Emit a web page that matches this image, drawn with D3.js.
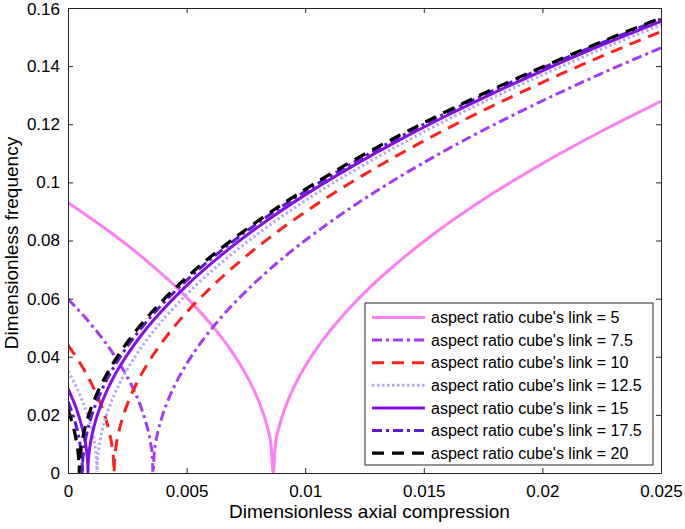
<!DOCTYPE html>
<html>
<head>
<meta charset="utf-8">
<script src="https://cdn.jsdelivr.net/npm/d3@7"></script>
<style>
  html, body { margin: 0; padding: 0; background: #fff; }
  svg { display: block; }
  text { font-family: Arial, "Liberation Sans", sans-serif; fill: #000; }
</style>
</head>
<body>
<div id="chart"></div>
<script>
// ---- data ----
const seriesNames = ["aspect ratio cube's link = 5", "aspect ratio cube's link = 7.5", "aspect ratio cube's link = 10",
  "aspect ratio cube's link = 12.5", "aspect ratio cube's link = 15", "aspect ratio cube's link = 17.5", "aspect ratio cube's link = 20"];

const x5 = [0, 0.000865, 0.00173, 0.002595, 0.00346, 0.004325, 0.00519, 0.006055, 0.00692, 0.007785, 0.008131, 0.008391, 0.008564, 0.00865,
  0.008737, 0.00891, 0.009169, 0.009515, 0.01038, 0.011245, 0.012543, 0.01384, 0.01557, 0.0173, 0.019895, 0.02249, 0.025];
const y5 = [0.093, 0.0882, 0.0832, 0.0778, 0.0720, 0.0658, 0.0588, 0.0509, 0.0416, 0.0294, 0.0228, 0.0161, 0.0093, 0,
  0.0093, 0.0161, 0.0228, 0.0294, 0.0416, 0.0509, 0.0624, 0.0720, 0.0832, 0.093, 0.1060, 0.1176, 0.1279];

const x7_5 = [0, 0.000359, 0.000718, 0.001077, 0.001436, 0.001795, 0.002154, 0.002513, 0.002872, 0.003231, 0.003375, 0.003482, 0.003554, 0.00359,
  0.003626, 0.003698, 0.003805, 0.003949, 0.004308, 0.004667, 0.005206, 0.005744, 0.006462, 0.00718, 0.008257, 0.009334, 0.01077,
  0.013, 0.015, 0.017, 0.019, 0.021, 0.023, 0.025];
const y7_5 = [0.0599, 0.0568, 0.0536, 0.0501, 0.0464, 0.0424, 0.0379, 0.0328, 0.0268, 0.0189, 0.0147, 0.0104, 0.006, 0,
  0.006, 0.0104, 0.0147, 0.0189, 0.0268, 0.0328, 0.0402, 0.0464, 0.0536, 0.0599, 0.0683, 0.0758, 0.0847,
  0.0970, 0.1068, 0.1158, 0.1241, 0.1319, 0.1393, 0.1463];

const x10 = [0, 0.000194, 0.000388, 0.000582, 0.000776, 0.00097, 0.001164, 0.001358, 0.001552, 0.001746, 0.001824, 0.001882, 0.001921, 0.00194,
  0.001959, 0.001998, 0.002056, 0.002134, 0.002328, 0.002522, 0.002813, 0.003104, 0.003492, 0.00388, 0.004462, 0.005044, 0.00582,
  0.007, 0.0085, 0.010, 0.012, 0.014, 0.016, 0.018, 0.020, 0.0225, 0.025];
const y10 = [0.044, 0.0417, 0.0394, 0.0368, 0.0341, 0.0311, 0.0278, 0.0241, 0.0197, 0.0139, 0.0108, 0.0076, 0.0044, 0,
  0.0044, 0.0076, 0.0108, 0.0139, 0.0197, 0.0241, 0.0295, 0.0341, 0.0394, 0.044, 0.0502, 0.0557, 0.0622,
  0.0711, 0.0810, 0.0898, 0.1003, 0.1098, 0.1186, 0.1267, 0.1344, 0.1434, 0.1519];

const x12_5 = [0, 0.0001225, 0.000245, 0.0003675, 0.00049, 0.0006125, 0.000735, 0.0008575, 0.00098, 0.0011025, 0.0011515, 0.0011883, 0.0012128, 0.001225,
  0.0012373, 0.0012618, 0.0012985, 0.0013475, 0.00147, 0.0015925, 0.0017763, 0.00196, 0.002205, 0.00245, 0.0028175, 0.003185, 0.003675,
  0.0045, 0.0055, 0.0065, 0.008, 0.010, 0.012, 0.014, 0.016, 0.018, 0.020, 0.0225, 0.025];
const y12_5 = [0.035, 0.0332, 0.0313, 0.0293, 0.0271, 0.0247, 0.0221, 0.0192, 0.0157, 0.0111, 0.0086, 0.0061, 0.0035, 0,
  0.0035, 0.0061, 0.0086, 0.0111, 0.0157, 0.0192, 0.0235, 0.0271, 0.0313, 0.035, 0.0399, 0.0443, 0.0495,
  0.0572, 0.0654, 0.0726, 0.0823, 0.0937, 0.1038, 0.1130, 0.1216, 0.1295, 0.1370, 0.1459, 0.1542];

const x15 = [0, 0.0000841, 0.0001682, 0.0002523, 0.0003364, 0.0004205, 0.0005046, 0.0005887, 0.0006728, 0.0007569, 0.0007905, 0.0008158, 0.0008326, 0.000841,
  0.0008494, 0.0008662, 0.0008915, 0.0009251, 0.0010092, 0.0010933, 0.0012195, 0.0013456, 0.0015138, 0.001682, 0.0019343, 0.0021866, 0.002523,
  0.0032, 0.004, 0.005, 0.0065, 0.008, 0.010, 0.012, 0.014, 0.016, 0.018, 0.020, 0.0225, 0.025];
const y15 = [0.029, 0.0275, 0.0259, 0.0243, 0.0225, 0.0205, 0.0183, 0.0159, 0.0130, 0.0092, 0.0071, 0.005, 0.0029, 0,
  0.0029, 0.005, 0.0071, 0.0092, 0.013, 0.0159, 0.0195, 0.0225, 0.0259, 0.029, 0.0331, 0.0367, 0.0410,
  0.0486, 0.0562, 0.0645, 0.0752, 0.0846, 0.0957, 0.1056, 0.1147, 0.1231, 0.1310, 0.1384, 0.1472, 0.1554];

const x17_5 = [0, 0.0000605, 0.000121, 0.0001815, 0.000242, 0.0003025, 0.000363, 0.0004235, 0.000484, 0.0005445, 0.0005687, 0.0005869, 0.000599, 0.000605,
  0.000611, 0.0006232, 0.0006413, 0.0006655, 0.000726, 0.0007865, 0.0008773, 0.000968, 0.001089, 0.00121, 0.0013915, 0.001573, 0.001815,
  0.0023, 0.003, 0.004, 0.005, 0.0065, 0.008, 0.010, 0.012, 0.014, 0.016, 0.018, 0.020, 0.0225, 0.025];
const y17_5 = [0.0246, 0.0233, 0.022, 0.0206, 0.0191, 0.0174, 0.0156, 0.0135, 0.011, 0.0078, 0.006, 0.0043, 0.0025, 0,
  0.0025, 0.0043, 0.006, 0.0078, 0.011, 0.0135, 0.0165, 0.0191, 0.022, 0.0246, 0.0280, 0.0311, 0.0348,
  0.0412, 0.0489, 0.0583, 0.0663, 0.0768, 0.0860, 0.0969, 0.1067, 0.1157, 0.1241, 0.1319, 0.1393, 0.1480, 0.1562];

const x20 = [0, 0.0000475, 0.000095, 0.0001425, 0.00019, 0.0002375, 0.000285, 0.0003325, 0.00038, 0.0004275, 0.0004465, 0.0004608, 0.0004703, 0.000475,
  0.0004798, 0.0004893, 0.0005035, 0.0005225, 0.00057, 0.0006175, 0.0006888, 0.00076, 0.000855, 0.00095, 0.0010925, 0.001235, 0.001425,
  0.0019, 0.0025, 0.0033, 0.004, 0.005, 0.0065, 0.008, 0.010, 0.012, 0.014, 0.016, 0.018, 0.020, 0.0225, 0.025];
const y20 = [0.0218, 0.0207, 0.0195, 0.0182, 0.0169, 0.0154, 0.0138, 0.0119, 0.0097, 0.0069, 0.0053, 0.0038, 0.0022, 0,
  0.0022, 0.0038, 0.0053, 0.0069, 0.0097, 0.0119, 0.0146, 0.0169, 0.0195, 0.0218, 0.0249, 0.0276, 0.0308,
  0.0377, 0.0450, 0.0532, 0.0594, 0.0673, 0.0776, 0.0867, 0.0976, 0.1074, 0.1163, 0.1246, 0.1324, 0.1397, 0.1484, 0.1566];

const xTicks = [0, 0.005, 0.01, 0.015, 0.02, 0.025];
const xTickLabels = ["0", "0.005", "0.01", "0.015", "0.02", "0.025"];
const yTicks = [0, 0.02, 0.04, 0.06, 0.08, 0.1, 0.12, 0.14, 0.16];
const yTickLabels = ["0", "0.02", "0.04", "0.06", "0.08", "0.1", "0.12", "0.14", "0.16"];
const xTitle = "Dimensionless axial compression";
const yTitle = "Dimensionless frequency";

// ---- styles ----
const seriesX = [x5, x7_5, x10, x12_5, x15, x17_5, x20];
const seriesY = [y5, y7_5, y10, y12_5, y15, y17_5, y20];
const colors = ["#ff80f0", "#a33cf6", "#ff2020", "#b8a8fa", "#8510e6", "#5a1ccc", "#000000"];
const dashes = [null, "10,4,3,4", "12,8", "2.5,2.5", null, "10,4,3,4", "12,8"];
const widths = [3, 3, 3, 3, 3, 3, 3.2];

const W = 685, H = 529;
const m = { left: 68, right: 661, top: 8, bottom: 473 };

const svg = d3.select("#chart").append("svg").attr("width", W).attr("height", H);

const x = d3.scaleLinear().domain([0, 0.025]).range([m.left, m.right]);
const y = d3.scaleLinear().domain([0, 0.16]).range([m.bottom, m.top]);

svg.append("clipPath").attr("id", "clip")
  .append("rect").attr("x", m.left).attr("y", m.top - 2).attr("width", m.right - m.left).attr("height", m.bottom - m.top + 2);

const line = d3.line().x(d => x(d[0])).y(d => y(d[1])).curve(d3.curveMonotoneX);

const gLines = svg.append("g").attr("clip-path", "url(#clip)");
seriesX.forEach((xs, i) => {
  const pts = xs.map((v, j) => [v, seriesY[i][j]]);
  gLines.append("path").datum(pts)
    .attr("d", line)
    .attr("fill", "none")
    .attr("stroke", colors[i])
    .attr("stroke-width", widths[i])
    .attr("stroke-dasharray", dashes[i])
    .attr("stroke-linejoin", "round");
});

// axes (MATLAB style box with inward ticks)
const axisColor = "#262626";
const fmtX = (d, i) => xTickLabels[i];
const fmtY = (d, i) => yTickLabels[i];

const xAxisB = svg.append("g").attr("transform", `translate(0,${m.bottom})`)
  .call(d3.axisBottom(x).tickValues(xTicks).tickFormat(fmtX).tickSizeInner(-5).tickSizeOuter(0).tickPadding(11.5));
const xAxisT = svg.append("g").attr("transform", `translate(0,${m.top})`)
  .call(d3.axisTop(x).tickValues(xTicks).tickFormat("").tickSizeInner(-5).tickSizeOuter(0));
const yAxisL = svg.append("g").attr("transform", `translate(${m.left},0)`)
  .call(d3.axisLeft(y).tickValues(yTicks).tickFormat(fmtY).tickSizeInner(-5).tickSizeOuter(0).tickPadding(8));
const yAxisR = svg.append("g").attr("transform", `translate(${m.right},0)`)
  .call(d3.axisRight(y).tickValues(yTicks).tickFormat("").tickSizeInner(-5).tickSizeOuter(0));

[xAxisB, xAxisT, yAxisL, yAxisR].forEach(g => {
  g.selectAll("path.domain").attr("stroke", axisColor).attr("stroke-width", 1);
  g.selectAll(".tick line").attr("stroke", axisColor).attr("stroke-width", 1);
  g.selectAll(".tick text").attr("font-size", 17).attr("fill", "#000")
    .style("font-family", "Arial, 'Liberation Sans', sans-serif");
});
// keep the topmost y label inside the picture
yAxisL.selectAll(".tick text").filter((d, i) => i === yTicks.length - 1).attr("dy", "0.4em");

// axis titles
svg.append("text").attr("x", (m.left + m.right) / 2 + 5).attr("y", 518)
  .attr("text-anchor", "middle").attr("font-size", 19).text(xTitle);
svg.append("text").attr("transform", `translate(18,243) rotate(-90)`)
  .attr("text-anchor", "middle").attr("font-size", 19).text(yTitle);

// legend
const lg = { x: 365, y: 303, w: 288, h: 162, row: 22.6 };
const gL = svg.append("g");
gL.append("rect").attr("x", lg.x).attr("y", lg.y).attr("width", lg.w).attr("height", lg.h)
  .attr("fill", "#fff").attr("stroke", axisColor).attr("stroke-width", 1);
seriesNames.forEach((name, i) => {
  const cy = lg.y + 14.5 + i * lg.row;
  gL.append("line").attr("x1", lg.x + 7).attr("x2", lg.x + 60).attr("y1", cy).attr("y2", cy)
    .attr("stroke", colors[i]).attr("stroke-width", widths[i]).attr("stroke-dasharray", dashes[i]);
  gL.append("text").attr("x", lg.x + 66).attr("y", cy).attr("dy", "0.35em")
    .attr("font-size", 16).text(name);
});
</script>
</body>
</html>
